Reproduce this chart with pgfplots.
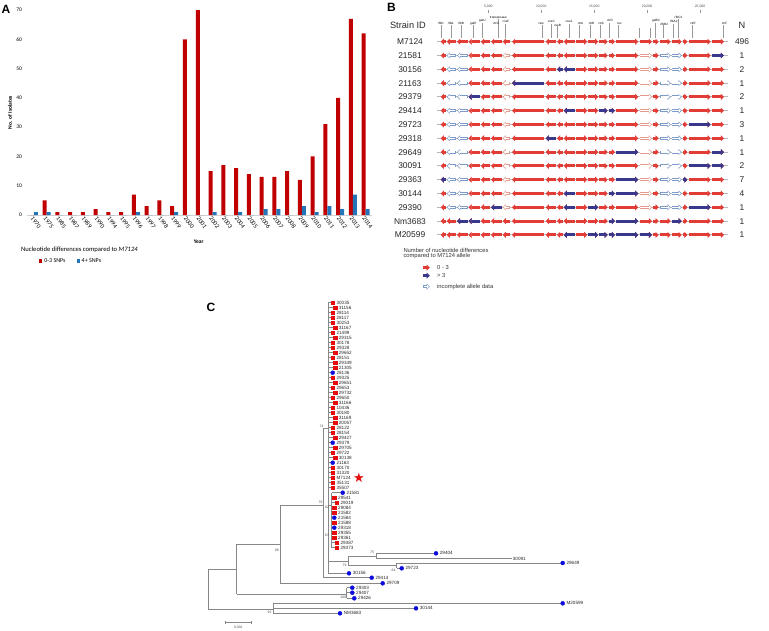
\documentclass[border=0pt]{standalone}
\usepackage{pgfplots}
\pgfplotsset{compat=1.18}
\usepackage{pgfplotstable}
\usepackage{fontspec}
\setmainfont{Liberation Sans}
\newfontfamily\carlito{Carlito}
\newfontfamily\dejavu{DejaVu Sans}
\usetikzlibrary{arrows.meta}
\newcommand\fs[1]{\fontsize{#1}{#1}\selectfont}
\definecolor{barred}{RGB}{192,0,0}
\definecolor{barblue}{RGB}{36,116,186}
\definecolor{genered}{RGB}{226,60,54}
\definecolor{geneblue}{RGB}{58,56,140}
\definecolor{outblue}{RGB}{125,155,200}
\definecolor{outred}{RGB}{226,155,140}
\definecolor{leafred}{RGB}{230,12,12}
\definecolor{leafblue}{RGB}{12,12,220}
\definecolor{treegray}{RGB}{135,135,135}

\pgfplotsset{
  gene/.style={quiver={u=\thisrow{u}, v=0, every arrow/.append style={line width=3pt, -{Triangle[length=3.2pt,width=6pt]}}}},
  genein/.style={quiver={u=\thisrow{u}, v=0, every arrow/.append style={line width=1.5pt, -{Triangle[length=1.8pt,width=3.6pt]}, shorten >=1pt, shorten <=0.75pt}}},
}

\pgfplotstableread{
idx low high
0 0 1
1 5 1
2 1 0
3 1 0
4 1 0
5 2 0
6 1 0
7 1 0
8 7 1
9 3 0
10 5 0
11 3 1
12 60 0
13 70 0
14 15 1
15 17 0
16 16 1
17 14 0
18 13 2
19 13 2
20 15 0
21 12 3
22 20 1
23 31 3
24 40 2
25 67 7
26 62 2
}\yeardata

\pgfplotstableread{
xs u
445.7 -5
456 -9.3
467.7 -10.7
479.8 -11.3
490 -9.2
501.7 -10.7
510 -7.3
544 -32
556 -10.3
562.7 -5.7
575 -11.3
576 11.3
588.3 10
599.3 8.4
608.7 6.3
616 22.3
639.7 12.3
653.3 5.4
660 10.7
671.7 10
682.7 4.8
689.3 21.4
712 12
}\genes

\pgfplotstableread{
xs u
445.7 -5
479.8 -11.3
490 -9.2
501.7 -10.7
544 -32
556 -10.3
562.7 -5.7
575 -11.3
576 11.3
588.3 10
599.3 8.4
608.7 6.3
616 22.3
653.3 5.4
682.7 4.8
689.3 21.4
712 12
}\genescore

\pgfplotstableread{
xs u
456 -9.3
467.7 -10.7
660 10.7
671.7 10
}\whiteb

\pgfplotstableread{
xs u
510 -7.3
639.7 12.3
}\whiter

\pgfplotstableread{
xs u y
712 12 55.5
562.7 -5.7 69.3
575 -11.3 69.3
544 -32 83.1
479.8 -11.3 96.9
575 -11.3 110.7
599.3 8.4 110.7
608.7 6.3 110.7
689.3 21.4 124.5
556 -10.3 138.3
616 22.3 152.1
712 12 152.1
689.3 21.4 165.9
712 12 165.9
445.7 -5 179.7
616 22.3 179.7
682.7 4.8 179.7
575 -11.3 193.5
608.7 6.3 193.5
616 22.3 193.5
501.7 -10.7 207.3
575 -11.3 207.3
588.3 10 207.3
689.3 21.4 207.3
467.7 -10.7 221.1
479.8 -11.3 221.1
608.7 6.3 221.1
616 22.3 221.1
671.7 10 221.1
575 -11.3 234.9
588.3 10 234.9
599.3 8.4 234.9
608.7 6.3 234.9
616 22.3 234.9
639.7 12.3 234.9
}\bluegenes

\pgfplotstableread{
y name n
41.7 M7124 496
55.5 21581 1
69.3 30156 2
83.1 21163 1
96.9 29379 2
110.7 29414 1
124.5 29723 3
138.3 29318 1
152.1 29649 1
165.9 30091 2
179.7 29363 7
193.5 30144 4
207.3 29390 1
221.1 Nm3683 1
234.9 M20599 1
}\strains

\pgfplotstableread{
x y v
441 25.1 12.4
450.7 25.1 12.4
461 25.1 12.4
473.3 25.1 12.4
482.3 22.6 14.9
498.3 19.1 18.4
505.3 23.6 13.9
542.3 25.1 12.4
551.3 23.6 13.9
557 26.1 11.4
569 23.6 13.9
579.3 25.1 12.4
590.3 25.1 12.4
600 25.1 12.4
609.3 23.1 14.4
618.3 25.1 12.4
639.3 28 9.5
650 28 9.5
655.3 23.1 14.4
663.3 25.1 12.4
673.3 23.6 13.9
677.7 19.1 18.4
691.7 25.1 12.4
723.3 25.1 12.4
}\leaders

\pgfplotstableread{
x y base t lab
332.7 302.7 328.3 0 30035
335 307.7 328.3 0 31156
332.7 312.7 328.3 0 28114
332.7 317.7 328.3 0 28117
332.7 322.7 328.3 0 30253
335 327.7 328.3 0 31167
332.7 332.7 328.3 0 21499
335 337.7 328.3 0 29315
332.7 342.7 328.3 0 30178
332.7 347.7 328.3 0 29328
335 352.7 328.3 0 29652
332.7 357.7 328.3 0 28151
335 362.7 328.3 0 29349
335 367.7 328.3 0 21305
332.7 372.7 328.3 1 28136
332.7 377.7 328.3 0 29325
335 382.7 328.3 0 29651
332.7 387.7 328.3 0 29653
335 392.7 328.3 0 29732
332.7 397.7 328.3 0 29650
335 402.7 328.3 0 31166
332.7 407.7 328.3 0 10436
332.7 412.7 328.3 0 30180
335 417.7 328.3 0 31169
335 422.7 328.3 0 20057
332.7 427.7 328.3 0 28122
332.7 432.7 328.3 0 28154
335 437.7 328.3 0 29427
332.7 442.7 328.3 1 29379
335 447.7 328.3 0 29705
332.7 452.7 328.3 0 29722
335 457.7 328.3 0 30138
332.7 462.7 328.3 1 21163
332.7 467.7 328.3 0 30170
332.7 472.7 328.3 0 31320
332.7 477.7 328.3 0 M7124
332.7 482.7 328.3 0 35131
332.7 487.7 328.3 0 35507
342.7 492.7 331.7 1 21581
334.3 497.7 331.7 0 29541
336.7 502.7 331.7 0 29019
334.3 507.7 331.7 0 29084
334.3 512.7 331.7 0 21582
334.3 517.7 331.7 1 21584
334.3 522.7 331.7 0 21588
334.3 527.7 331.7 1 29318
334.3 532.7 331.7 0 29355
334.3 537.7 331.7 0 29361
336.7 542.7 331.7 0 29387
336.7 547.7 331.7 0 29373
436 553.3 376.7 1 29404
511.7 558.7 376.7 2 30091
562.7 563 396.7 1 29649
401.7 568.3 396.7 1 29723
349 573.3 328.3 1 30156
371.7 577.7 323.3 1 29414
382.7 583.3 280 1 29709
352.3 587.7 346.7 1 29303
352.3 592.7 346.7 1 29407
354.3 598.3 346.7 1 29426
562.7 603.3 273.3 1 M20599
416 608.3 273.3 1 30144
340 613.3 273.3 1 NM3683
}\leaves

\begin{document}
\begin{tikzpicture}
\useasboundingbox (0pt,0pt) rectangle (769pt,-630pt);
\fill[white] (0pt,0pt) rectangle (769pt,-630pt);
\node[font=\bfseries\fs{12}, inner sep=0pt] at (6pt,-9pt) {A};
\node[font=\bfseries\fs{12}, inner sep=0pt] at (391.5pt,-7.5pt) {B};
\node[font=\bfseries\fs{12}, inner sep=0pt] at (211pt,-307.5pt) {C};
\node[font=\carlito\fs{6.6}, anchor=west, inner sep=0pt] at (21pt,-250pt) {Nucleotide differences compared to \textit{M7124}};

% ---------------- Panel A ----------------
\begin{axis}[
  at={(27.5pt,-215pt)}, anchor=south west,
  scale only axis, width=344.5pt, height=205pt,
  ybar=0pt, bar width=4pt,
  xmin=-0.5, xmax=26.5, ymin=0, ymax=70,
  xtick={0,...,26},
  xticklabels={1970,1975,1985,1987,1989,1990,1994,1995,1996,1997,1998,1999,2000,2001,2002,2003,2004,2005,2006,2007,2008,2009,2010,2011,2012,2013,2014},
  ytick={0,10,...,70},
  major tick length=0pt,
  axis lines*=left,
  axis line style={-},
  x axis line style={draw=gray!35},
  y axis line style={draw=none},
  /pgf/number format/assume math mode=true,
  x tick label style={font=\carlito\fs{6.2}, rotate=-53, anchor=north west, inner sep=0.8pt},
  y tick label style={font=\carlito\fs{5.5}, xshift=-2pt},
  xlabel={Year}, ylabel={No. of Isolates},
  xlabel style={font=\carlito\bfseries\fs{5.5}, at={(axis description cs:0.497,-0.132)}, anchor=center},
  ylabel style={font=\carlito\bfseries\fs{5.5}, at={(axis description cs:-0.051,0.5)}, anchor=center},
  legend style={at={(axis description cs:0.033,-0.224)}, anchor=west, draw=none, fill=none, inner sep=0pt,
    legend columns=2, font=\carlito\fs{6}, /tikz/every even column/.append style={column sep=9pt}},
  legend cell align=left,
]
\addplot[fill=barred, draw=none, legend image code/.code={\fill[barred] (0pt,-1.6pt) rectangle (3.2pt,1.6pt);}] table[x=idx,y=low]{\yeardata};
\addplot[fill=barblue, draw=none, legend image code/.code={\fill[barblue] (0pt,-1.6pt) rectangle (3.2pt,1.6pt);}] table[x=idx,y=high]{\yeardata};
\legend{0-3 SNPs, 4+ SNPs}
\end{axis}

% ---------------- Panels B and C (pixel canvas) ----------------
\begin{axis}[
  at={(384.5pt,-315pt)}, anchor=center,
  scale only axis, width=769pt, height=630pt,
  xmin=0, xmax=769, ymin=0, ymax=630, y dir=reverse,
  hide axis, clip=false,
]
% backbones of each strain row
\addplot[gray!55, line width=0.9pt, quiver={u=291.5, v=0}] table[x expr=436.5, y=y]{\strains};
% base genes
\pgfplotsinvokeforeach{41.7,221.1,234.9}{
  \addplot[genered, gene] table[x=xs, y expr=#1]{\genes};
}
\pgfplotsinvokeforeach{55.5,69.3,83.1,96.9,110.7,124.5,138.3,152.1,165.9,179.7,193.5,207.3}{
  \addplot[genered, gene] table[x=xs, y expr=#1]{\genescore};
  \addplot[outblue, gene] table[x=xs, y expr=#1]{\whiteb};
  \addplot[white, genein] table[x=xs, y expr=#1]{\whiteb};
  \addplot[outred, gene] table[x=xs, y expr=#1]{\whiter};
  \addplot[white, genein] table[x=xs, y expr=#1]{\whiter};
}
\addplot[geneblue, gene] table[x=xs, y=y]{\bluegenes};
% leaders for gene names
\addplot[gray!80, line width=0.35pt, quiver={u=0, v=\thisrow{v}}] table[x=x, y=y]{\leaders};
% ruler ticks
\addplot[gray!80, line width=0.35pt, quiver={u=0, v=3}] table[row sep=\\]{x y\\ 488.3 9.5\\ 541.2 9.5\\ 594.2 9.5\\ 647.1 9.5\\ 700 9.5\\};
% strain names and N
\addplot[draw=none, nodes near coords, point meta=explicit symbolic,
  every node near coord/.append style={anchor=center, font=\fs{8.4}, text=black!85}] table[x expr=410, y=y, meta=name]{\strains};
\addplot[draw=none, nodes near coords, point meta=explicit symbolic,
  every node near coord/.append style={anchor=center, font=\fs{8.4}, text=black!85}] table[x expr=742, y=y, meta=n]{\strains};
\node[font=\fs{9.2}, text=black!85] at (axis cs:408,25) {Strain ID};
\node[font=\fs{9.2}, text=black!85] at (axis cs:742,25) {N};
% ruler labels
\node[font=\fs{3.4}, text=black!70] at (axis cs:488.3,7) {5,000};
\node[font=\fs{3.4}, text=black!70] at (axis cs:541.2,7) {10,000};
\node[font=\fs{3.4}, text=black!70] at (axis cs:594.2,7) {15,000};
\node[font=\fs{3.4}, text=black!70] at (axis cs:647.1,7) {20,000};
\node[font=\fs{3.4}, text=black!70] at (axis cs:700,7) {25,000};
% gene names
\node[font=\fs{3.1}, inner sep=0pt] at (axis cs:441,23.5) {rfbC};
\node[font=\fs{3.1}, inner sep=0pt] at (axis cs:450.7,23.5) {rfbA};
\node[font=\fs{3.1}, inner sep=0pt] at (axis cs:461,23.5) {rfbB};
\node[font=\fs{3.1}, inner sep=0pt] at (axis cs:473.3,23.5) {galE};
\node[font=\fs{3.1}, inner sep=0pt] at (axis cs:482.3,21) {galU};
\node[font=\fs{3.1}, inner sep=0pt] at (axis cs:498.3,17.5) {transposase};
\node[font=\fs{3.1}, inner sep=0pt] at (axis cs:496,23.5) {ctrG};
\node[font=\fs{3.1}, inner sep=0pt] at (axis cs:506,21.5) {cssF};
\node[font=\fs{3.1}, inner sep=0pt] at (axis cs:541,23.5) {csw};
\node[font=\fs{3.1}, inner sep=0pt] at (axis cs:551.3,21.5) {cssC};
\node[font=\fs{3.1}, inner sep=0pt] at (axis cs:557.5,25) {cssB};
\node[font=\fs{3.1}, inner sep=0pt] at (axis cs:569,21.5) {cssA};
\node[font=\fs{3.1}, inner sep=0pt] at (axis cs:580.5,23.5) {ctrA};
\node[font=\fs{3.1}, inner sep=0pt] at (axis cs:591.5,23.5) {ctrB};
\node[font=\fs{3.1}, inner sep=0pt] at (axis cs:601.2,23.5) {ctrC};
\node[font=\fs{3.1}, inner sep=0pt] at (axis cs:610,20.5) {ctrD};
\node[font=\fs{3.1}, inner sep=0pt] at (axis cs:619.5,23.5) {tex};
\node[font=\fs{3.1}, inner sep=0pt] at (axis cs:656,21) {galE2};
\node[font=\fs{3.1}, inner sep=0pt] at (axis cs:664.3,24.5) {rfbB2};
\node[font=\fs{3.1}, inner sep=0pt] at (axis cs:673.8,21.5) {rfbA2};
\node[font=\fs{3.1}, inner sep=0pt] at (axis cs:678.5,17.5) {rfbC2};
\node[font=\fs{3.1}, inner sep=0pt] at (axis cs:693,23.5) {ctrE};
\node[font=\fs{3.1}, inner sep=0pt] at (axis cs:724.5,23.5) {ctrF};
% legend of B
\addplot[genered, gene] table[row sep=\\]{xs y u\\ 423.3 267.7 6.5\\};
\addplot[geneblue, gene] table[row sep=\\]{xs y u\\ 423.3 275.7 6.5\\};
\addplot[outblue, gene] table[row sep=\\]{xs y u\\ 423.3 286.7 6.5\\};
\addplot[white, genein] table[row sep=\\]{xs y u\\ 423.3 286.7 6.5\\};
\node[font=\fs{5.8}, anchor=west, inner sep=0pt, text=black!80] at (axis cs:403.3,250) {Number of nucleotide differences};
\node[font=\fs{5.8}, anchor=west, inner sep=0pt, text=black!80] at (axis cs:403.3,256) {compared to M7124 allele};
\node[font=\fs{5.8}, anchor=west, inner sep=0pt, text=black!80] at (axis cs:437,267.7) {0 - 3};
\node[font=\fs{5.8}, anchor=west, inner sep=0pt, text=black!80] at (axis cs:437,275.7) {> 3};
\node[font=\fs{5.8}, anchor=west, inner sep=0pt, text=black!80] at (axis cs:437,286.7) {incomplete allele data};

% ---------------- Panel C: tree ----------------
\addplot[treegray, line width=0.6pt, unbounded coords=jump] table[row sep=\\]{
x y\\
328.3 302.7\\ 328.3 573.3\\ nan nan\\
328.3 428.3\\ 323.3 428.3\\ 323.3 577.7\\ nan nan\\
280 505\\ 323.3 505\\ nan nan\\
280 505\\ 280 583.3\\ nan nan\\
236.7 544.3\\ 280 544.3\\ nan nan\\
236.7 544.3\\ 236.7 594\\ nan nan\\
236.7 594\\ 346.7 594\\ nan nan\\
346.7 587.7\\ 346.7 598.3\\ nan nan\\
208.3 569.3\\ 236.7 569.3\\ nan nan\\
208.3 569.3\\ 208.3 609\\ nan nan\\
208.3 609\\ 273.3 609\\ nan nan\\
273.3 603.3\\ 273.3 613.3\\ nan nan\\
328.3 505\\ 331.7 505\\ nan nan\\
331.7 492.7\\ 331.7 547.7\\ nan nan\\
328.3 561\\ 348.3 561\\ nan nan\\
348.3 556\\ 348.3 565.7\\ nan nan\\
348.3 556\\ 376.7 556\\ nan nan\\
376.7 553.3\\ 376.7 558.7\\ nan nan\\
348.3 565.7\\ 396.7 565.7\\ nan nan\\
396.7 563\\ 396.7 568.3\\ nan nan\\
225 622.7\\ 251.7 622.7\\ nan nan\\
225 621.2\\ 225 624.2\\ nan nan\\
251.7 621.2\\ 251.7 624.2\\
};
% leaf branches
\addplot[treegray, line width=0.6pt, quiver={u=\thisrow{x}-\thisrow{base}, v=0}] table[x=base, y=y]{\leaves};
% leaf markers and labels
\addplot[only marks, mark=square*, mark size=1.8pt, leafred, restrict expr to domain={\thisrow{t}}{0:0},
  nodes near coords, point meta=explicit symbolic,
  every node near coord/.append style={anchor=west, font=\fs{4.6}, inner sep=0.2pt, xshift=3.5pt, text=black!85}]
  table[x=x, y=y, meta=lab]{\leaves};
\addplot[only marks, mark=*, mark size=2pt, leafblue, restrict expr to domain={\thisrow{t}}{1:1},
  nodes near coords, point meta=explicit symbolic,
  every node near coord/.append style={anchor=west, font=\fs{4.6}, inner sep=0.2pt, xshift=3.5pt, text=black!85}]
  table[x=x, y=y, meta=lab]{\leaves};
\addplot[draw=none, restrict expr to domain={\thisrow{t}}{2:2},
  nodes near coords, point meta=explicit symbolic,
  every node near coord/.append style={anchor=west, font=\fs{4.6}, inner sep=0.2pt, xshift=0.8pt, text=black!85}]
  table[x=x, y=y, meta=lab]{\leaves};
% star for M7124
\addplot[only marks, mark=text, text mark={\textcolor{leafred}{\dejavu\fs{13}★}}]
  coordinates {(359,478.3)};
% bootstrap values
\node[font=\fs{3.4}, text=black!70] at (axis cs:321.5,426) {74};
\node[font=\fs{3.4}, text=black!70] at (axis cs:320.5,502) {76};
\node[font=\fs{3.4}, text=black!70] at (axis cs:327,507.5) {62};
\node[font=\fs{3.4}, text=black!70] at (axis cs:327,535) {63};
\node[font=\fs{3.4}, text=black!70] at (axis cs:372,552.3) {75};
\node[font=\fs{3.4}, text=black!70] at (axis cs:344.5,565) {79};
\node[font=\fs{3.4}, text=black!70] at (axis cs:393.5,570.2) {64};
\node[font=\fs{3.4}, text=black!70] at (axis cs:276.8,550) {99};
\node[font=\fs{3.4}, text=black!70] at (axis cs:343.3,597) {100};
\node[font=\fs{3.4}, text=black!70] at (axis cs:269.5,612) {92};
\node[font=\fs{3.4}, text=black!70] at (axis cs:238.3,627.3) {0.001};
\end{axis}
\end{tikzpicture}
\end{document}
